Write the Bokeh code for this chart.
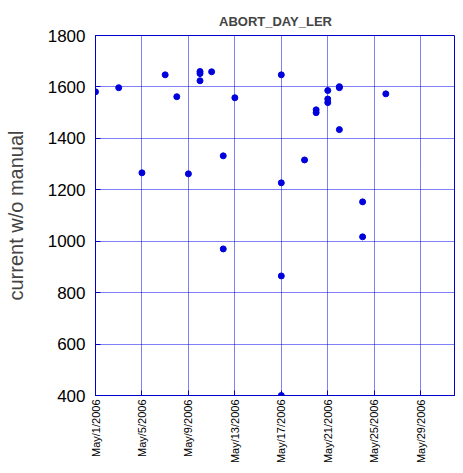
import math
import pandas as pd
from bokeh.plotting import figure
from bokeh.models import Range1d, FixedTicker, ColumnDataSource
from bokeh.embed import file_html
from bokeh.resources import INLINE

# ---- data ----
dates = ["2006-05-01", "2006-05-03", "2006-05-05", "2006-05-07", "2006-05-08",
         "2006-05-09", "2006-05-10", "2006-05-10", "2006-05-10", "2006-05-11",
         "2006-05-12", "2006-05-12", "2006-05-13", "2006-05-17", "2006-05-17",
         "2006-05-17", "2006-05-17", "2006-05-19", "2006-05-20", "2006-05-20",
         "2006-05-21", "2006-05-21", "2006-05-21", "2006-05-22", "2006-05-22",
         "2006-05-22", "2006-05-24", "2006-05-24", "2006-05-26"]
values = [1581, 1597, 1266, 1647, 1562,
          1262, 1660, 1652, 1624, 1659,
          1332, 970, 1558, 1647, 1227,
          865, 400, 1316, 1511, 1500,
          1586, 1553, 1539, 1601, 1597,
          1434, 1153, 1017, 1573]
x_tick_dates = ["2006-05-01", "2006-05-05", "2006-05-09", "2006-05-13",
                "2006-05-17", "2006-05-21", "2006-05-25", "2006-05-29"]
x_tick_labels = ["May/1/2006", "May/5/2006", "May/9/2006", "May/13/2006",
                 "May/17/2006", "May/21/2006", "May/25/2006", "May/29/2006"]
y_ticks = [400, 600, 800, 1000, 1200, 1400, 1600, 1800]
x_start, x_end = "2006-05-01", "2006-06-01"
title_text = "ABORT_DAY_LER"
y_label = "current w/o manual"

BLUE = "#0000CC"
DOT = "#0000DD"

def ms(d):
    return pd.Timestamp(d).value / 1e6

src = ColumnDataSource(dict(x=pd.to_datetime(dates), y=values))

p = figure(frame_width=360, frame_height=360, x_axis_type="datetime",
           output_backend="svg", toolbar_location=None,
           min_border_left=95, min_border_right=0,
           min_border_top=35, min_border_bottom=68)
p.x_range = Range1d(ms(x_start), ms(x_end))
p.y_range = Range1d(400, 1800)

p.title.text = title_text
p.title.align = "center"
p.title.text_font = "Liberation Sans"
p.title.text_font_size = "13px"
p.title.text_font_style = "bold"
p.title.standoff = 14

p.outline_line_color = BLUE
p.outline_line_width = 1
p.outline_line_alpha = 1

tick_ms = [ms(d) for d in x_tick_dates]
p.xaxis.ticker = FixedTicker(ticks=tick_ms)
p.xaxis.major_label_overrides = {t: l for t, l in zip(tick_ms, x_tick_labels)}
p.xaxis.major_label_orientation = math.pi / 2
p.xaxis.major_label_text_font = "Liberation Sans"
p.xaxis.major_label_text_font_size = "11px"
p.xaxis.major_label_standoff = 4

p.yaxis.ticker = FixedTicker(ticks=y_ticks)
p.yaxis.major_label_text_font = "Liberation Sans"
p.yaxis.major_label_text_font_size = "17px"
p.yaxis.major_label_standoff = 10
p.yaxis.axis_label = y_label
p.yaxis.axis_label_text_font = "Liberation Sans"
p.yaxis.axis_label_text_font_size = "20px"
p.yaxis.axis_label_text_font_style = "normal"
p.yaxis.axis_label_standoff = 18

for ax in (p.xaxis, p.yaxis):
    ax.axis_line_color = BLUE
    ax.major_tick_line_color = BLUE
    ax.major_tick_in = 5
    ax.major_tick_out = 0
    ax.minor_tick_line_color = None
    ax.major_label_text_color = "black"

for g in (p.xgrid, p.ygrid):
    g.grid_line_color = "#0000EE"
    g.grid_line_dash = "1 1"
    g.grid_line_width = 1
    g.grid_line_alpha = 1

p.scatter("x", "y", source=src, marker="circle", size=6,
          fill_color=DOT, line_color=DOT)

open("out.html", "w").write(file_html(p, INLINE))
